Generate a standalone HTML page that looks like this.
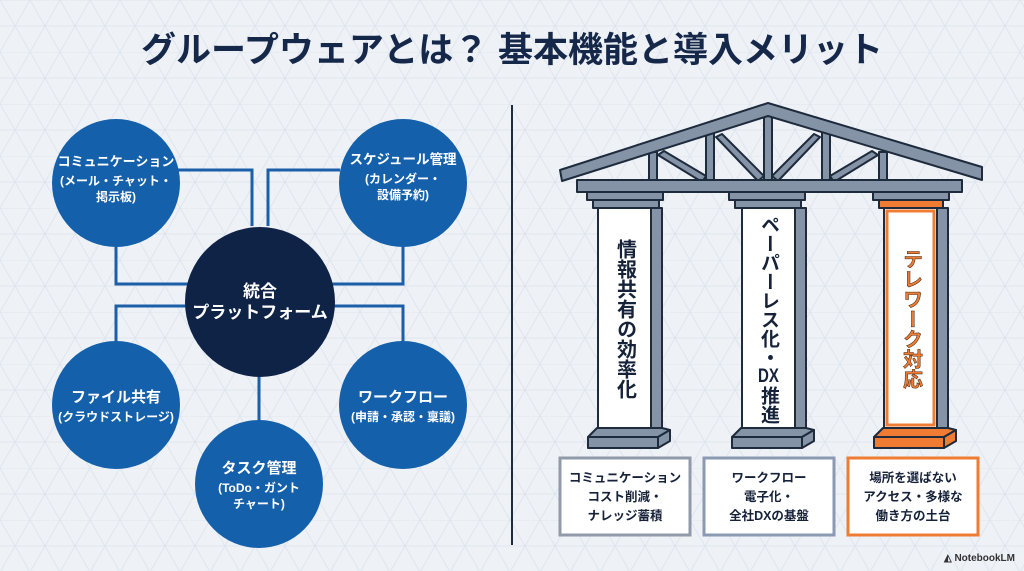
<!DOCTYPE html>
<html><head><meta charset="utf-8">
<style>
html,body{margin:0;padding:0;}
body{width:1024px;height:571px;overflow:hidden;background:#eef2f7;font-family:"Liberation Sans","Noto Sans CJK JP",sans-serif;position:relative;}
svg{display:block}
text{font-family:"Liberation Sans","Noto Sans CJK JP",sans-serif;font-weight:700;}
.v{position:absolute;display:flex;align-items:center;justify-content:center;font-weight:700;font-size:20px;line-height:1;}
.v span{writing-mode:vertical-rl;letter-spacing:0px;}
.tcy{text-combine-upright:all;}
</style></head><body>
<svg width="1024" height="571" viewBox="0 0 1024 571" xmlns="http://www.w3.org/2000/svg">
<defs>
<pattern id="g" width="60" height="52" patternUnits="userSpaceOnUse">
<path d="M0 0L60 0M0 26L60 26M0 0L30 52M30 0L60 52M60 0L30 52M30 0L0 52" stroke="#dfe5ee" stroke-width="1" fill="none"/>
</pattern>
</defs>
<rect width="1024" height="571" fill="#eef2f7"/>
<rect width="1024" height="571" fill="url(#g)"/>

<text x="512" y="62" text-anchor="middle" font-size="35" fill="#16284a">グループウェアとは？ 基本機能と導入メリット</text>

<g stroke="#1a5fa8" stroke-width="3" fill="none">
<path d="M178 170H252V226"/>
<path d="M340 170H268V226"/>
<path d="M116 235V284H188"/>
<path d="M403 235V284H332"/>
<path d="M188 306H116V345"/>
<path d="M332 306H403V345"/>
<path d="M259 375V421"/>
</g>
<g fill="#1560ab">
<circle cx="116" cy="183" r="64"/>
<circle cx="403" cy="183" r="64"/>
<circle cx="116" cy="405" r="64"/>
<circle cx="403" cy="405" r="64"/>
<circle cx="259" cy="484" r="64"/>
</g>
<circle cx="260" cy="302" r="75" fill="#0f2347"/>
<g fill="#fff" text-anchor="middle">
<text x="116" y="166" font-size="13">コミュニケーション</text>
<text x="116" y="185" font-size="12">(メール・チャット・</text>
<text x="116" y="201" font-size="12">掲示板)</text>
<text x="403" y="164" font-size="13.5">スケジュール管理</text>
<text x="403" y="183" font-size="12">(カレンダー・</text>
<text x="403" y="199" font-size="12">設備予約)</text>
<text x="260" y="297" font-size="17">統合</text>
<text x="260" y="318" font-size="17">プラットフォーム</text>
<text x="116" y="402" font-size="15">ファイル共有</text>
<text x="116" y="421" font-size="12">(クラウドストレージ)</text>
<text x="403" y="402" font-size="15">ワークフロー</text>
<text x="403" y="421" font-size="12">(申請・承認・稟議)</text>
<text x="259" y="473" font-size="15">タスク管理</text>
<text x="259" y="492" font-size="12">(ToDo・ガント</text>
<text x="259" y="508" font-size="12">チャート)</text>
</g>

<line x1="512" y1="105" x2="512" y2="545" stroke="#1e2b3d" stroke-width="2"/>

<g stroke="#1e2b3d" stroke-width="2" stroke-linejoin="round" fill="#8593a6">
<rect x="649" y="152" width="8" height="30"/>
<rect x="706" y="132" width="8" height="50"/>
<rect x="764" y="112" width="8" height="70"/>
<rect x="822" y="132" width="8" height="50"/>
<rect x="879" y="152" width="8" height="30"/>
<polygon points="658,155 664,151 706,176 702,182"/>
<polygon points="716,137 722,134 764,176 758,181"/>
<polygon points="820,137 814,134 772,176 778,181"/>
<polygon points="878,155 872,151 830,176 834,182"/>
<polygon points="560,170 768,103 982,167 982,180 768,116 562,181"/>
<rect x="577" y="180" width="385" height="12"/>
<rect x="587" y="192" width="76" height="8"/>
<rect x="593" y="200" width="66" height="8"/>
<rect x="729" y="192" width="76" height="8"/>
<rect x="735" y="200" width="66" height="8"/>
<rect x="873" y="192" width="76" height="8"/>
<rect x="651" y="208" width="11" height="224"/>
<rect x="795" y="208" width="11" height="224"/>
<rect x="937" y="208" width="11" height="224"/>
<polygon points="597,428 662,428 670,430 658,437 588,437"/>
<rect x="588" y="437" width="70" height="11"/>
<polygon points="658,437 670,430 670,441 658,448"/>
<polygon points="741,428 806,428 814,430 802,437 732,437"/>
<rect x="732" y="437" width="70" height="11"/>
<polygon points="802,437 814,430 814,441 802,448"/>
</g>
<g stroke="#1e2b3d" stroke-width="2" stroke-linejoin="round" fill="#f07c33">
<rect x="879" y="200" width="64" height="8"/>
<polygon points="883,428 948,428 956,430 944,437 874,437"/>
<rect x="874" y="437" width="70" height="11"/>
<polygon points="944,437 956,430 956,441 944,448"/>
</g>
<g stroke="#1e2b3d" stroke-width="2" fill="#fff">
<rect x="598" y="208" width="53" height="220"/>
<rect x="742" y="208" width="53" height="220"/>
<rect x="884" y="208" width="53" height="220"/>
</g>
<rect x="887" y="211" width="47" height="214" fill="none" stroke="#f07c33" stroke-width="3"/>

<rect x="560" y="458" width="130" height="77" fill="#fff" stroke="#909aa8" stroke-width="3"/>
<rect x="704" y="458" width="130" height="77" fill="#fff" stroke="#8a9ab2" stroke-width="3"/>
<rect x="848" y="458" width="130" height="77" fill="#fff" stroke="#f07c33" stroke-width="3"/>
<g font-size="12.5" fill="#16223a" text-anchor="middle">
<text x="625" y="482">コミュニケーション</text>
<text x="625" y="501">コスト削減・</text>
<text x="625" y="520">ナレッジ蓄積</text>
<text x="769" y="482">ワークフロー</text>
<text x="769" y="501">電子化・</text>
<text x="769" y="520">全社DXの基盤</text>
<text x="913" y="482">場所を選ばない</text>
<text x="913" y="501">アクセス・多様な</text>
<text x="913" y="520">働き方の土台</text>
</g>
<text x="1015" y="561" font-size="10" fill="#333" text-anchor="end" font-weight="400">◭ NotebookLM</text>
</svg>
<div class="v" style="left:598px;top:212px;width:53px;height:214px;color:#16223a;"><span>情報共有の効率化</span></div>
<div class="v" style="left:742px;top:212px;width:53px;height:214px;color:#16223a;font-size:19px;"><span>ペーパーレス化・<span class="tcy">DX</span>推進</span></div>
<div class="v" style="left:884px;top:212px;width:53px;height:214px;color:#f07c33;-webkit-text-stroke:0.5px #3a2210;"><span>テレワーク対応</span></div>
</body></html>
